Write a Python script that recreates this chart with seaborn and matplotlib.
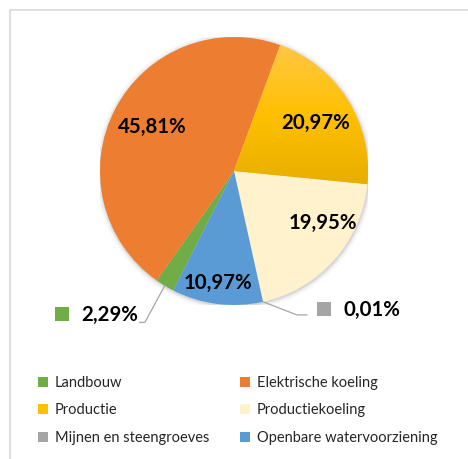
import numpy as np
import seaborn as sns
import matplotlib.pyplot as plt
from matplotlib.patches import Patch, Circle
from matplotlib.colors import LinearSegmentedColormap
from matplotlib.lines import Line2D

# --- Dane ---
sectors = ["Landbouw", "Elektrische koeling", "Productie", "Productiekoeling",
           "Mijnen en steengroeves", "Openbare watervoorziening"]
shares = [2.29, 45.81, 20.97, 19.95, 0.01, 10.97]
labels = ["2,29%", "45,81%", "20,97%", "19,95%", "0,01%", "10,97%"]
colors = ["#70AD47", "#ED7D31", "#FFC000", "#FFF2CC", "#A5A5A5", "#5B9BD5"]

# label positions (data coords, pie radius = 1)
label_pos = [(-0.925, -1.075), (-0.612, 0.325), (0.608, 0.358),
             (0.664, -0.388), (1.03, -1.037), (-0.123, -0.836)]

# --- Ustawienia ---
sns.set_theme(style="white")
plt.rcParams["font.family"] = ["Lato", "DejaVu Sans"]

W, H = 468, 459
fig = plt.figure(figsize=(W / 100, H / 100), dpi=100)

# ramka obszaru wykresu
fig.add_artist(Line2D([10 / W, 1], [1 - 10 / H, 1 - 10 / H], color="#D9D9D9", lw=1.2))
fig.add_artist(Line2D([10 / W, 10 / W], [0, 1 - 10 / H], color="#D9D9D9", lw=1.2))

cx, cy, r = 234, 171, 134
ax = fig.add_axes([(cx - r) / W, (H - cy - r) / H, 2 * r / W, 2 * r / H])

# delikatny cień
for rad, a in [(1.035, 0.03), (1.02, 0.05), (1.008, 0.08)]:
    ax.add_patch(Circle((0.004, -0.006), rad, color="black", alpha=a, lw=0, zorder=0))

wedges, _ = ax.pie(shares, colors=colors, startangle=-117, counterclock=False,
                   radius=1, wedgeprops=dict(linewidth=0), frame=False)

# gradient na "Productie"
grad = LinearSegmentedColormap.from_list("g", ["#E6AC00", "#FFC000", "#FFC84A"])
img = ax.imshow(np.linspace(0, 1, 200).reshape(-1, 1), cmap=grad, origin="lower",
                extent=(-0.05, 1.02, -0.15, 0.98), aspect="auto", zorder=2)
img.set_clip_path(wedges[2])

ax.set_xlim(-1, 1)
ax.set_ylim(-1, 1)
ax.set_aspect("equal")
ax.axis("off")

for lab, (x, y) in zip(labels, label_pos):
    ax.text(x, y, lab, ha="center", va="center", fontsize=14.7,
            fontweight="bold", color="black", zorder=5, clip_on=False)

# linie odniesienia + kwadraty dla małych wycinków
for i in [0, 4]:
    w = wedges[i]
    mid = np.deg2rad((w.theta1 + w.theta2) / 2)
    ax0, ay0 = np.cos(mid), np.sin(mid)
    lx, ly = label_pos[i]
    if i == 0:
        ex, ey = lx + 0.26, ly - 0.055
        xs, ys = [ax0, ex, ex - 0.04], [ay0, ey, ey]
    else:
        ex, ey = lx - 0.485, ly - 0.037
        xs, ys = [ax0, ex - 0.075, ex], [ay0, ey, ey]
    ax.add_line(Line2D(xs, ys, color="#A6A6A6", lw=0.9, zorder=4, clip_on=False))
    ax.scatter([lx - 0.362], [ly + 0.01], marker="s", s=88, color=colors[i],
               linewidths=0, zorder=5, clip_on=False)

# --- Legenda ---
handles = [Patch(facecolor=c, edgecolor="none") for c in colors]
order = [0, 2, 4, 1, 3, 5]
fig.legend([handles[k] for k in order], [sectors[k] for k in order],
           ncol=2, loc="upper left", bbox_to_anchor=(38 / W, 1 - 376 / H),
           frameon=False, fontsize=10.5, handlelength=0.7, handleheight=0.7,
           handletextpad=0.45, columnspacing=2.1, labelspacing=0.92,
           borderpad=0, borderaxespad=0)

fig.savefig("out.png", dpi=100)
